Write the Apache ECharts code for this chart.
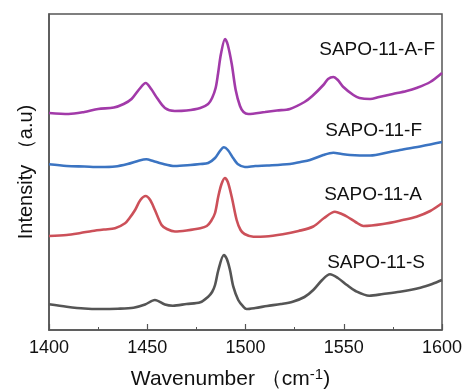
<!DOCTYPE html>
<html><head><meta charset="utf-8">
<script src="https://cdn.jsdelivr.net/npm/echarts@6/dist/echarts.min.js"></script>
<style>html,body{margin:0;padding:0;background:#fff}#c{width:465px;height:390px}</style>
</head><body><div id="c"></div>
<script>
const xTicks = [1400, 1450, 1500, 1550, 1600];
const seriesNames = ['SAPO-11-A-F', 'SAPO-11-F', 'SAPO-11-A', 'SAPO-11-S'];
const purpleAF = [[1400,217],[1410,216],[1418,218],[1425,221],[1433,222.5],[1438,226],[1442,231],[1446,241],[1449.2,247],[1452,241],[1455,232],[1459,222],[1464,219],[1470,219.5],[1477,222],[1481,226],[1483,232],[1484.8,242],[1486,256],[1487.5,276],[1489.6,291],[1491,285],[1493,266],[1495,240],[1497.2,224],[1499,218],[1501.4,216],[1510,218],[1516,219.5],[1522.6,221],[1530,228],[1534,234],[1539.6,245],[1542,251],[1544.7,253],[1547,250],[1549.8,243],[1554.9,235],[1558,232],[1563.4,231],[1568,233],[1575,236],[1582,239],[1587,242],[1594,248],[1600,257]];
const blueF = [[1400,165.7],[1409,164],[1418,163.5],[1426,163],[1433.6,163.5],[1440,166],[1446,169.5],[1449.5,170.7],[1453,169],[1457.3,166.5],[1464,164],[1472,165],[1477,166],[1481,167],[1484.5,172],[1487,179],[1489,182.7],[1491,180],[1493.8,171.7],[1496,166],[1499.7,163],[1505,164],[1511,164.5],[1522.6,166],[1528,168],[1532.8,170],[1539.6,175],[1544.7,177.3],[1549,176],[1553.2,175],[1563.4,174.5],[1573.5,178],[1578.6,180],[1590,184],[1600,188]];
const redA = [[1400,94],[1409,95],[1416,97],[1422,99],[1428,100.5],[1433.6,101.7],[1438.7,106.7],[1441,112],[1443.8,120],[1446.5,130],[1449.2,134],[1451.5,130],[1453.9,120],[1457.3,105],[1460,101],[1464.1,98.5],[1470,99.5],[1477,101.7],[1480.3,104],[1482.5,109],[1484.5,117],[1486.2,134],[1487.8,146],[1489.5,152],[1491,148],[1493,133],[1495.5,110],[1497.5,100],[1499.5,96],[1504,93.3],[1510,93.5],[1519,95.7],[1527,99],[1534.5,103.5],[1540,112],[1545.5,118.3],[1549,116],[1552,113],[1556,108],[1560,104],[1570,106],[1580,110],[1587,113.3],[1594,119],[1600,126.7]];
const grayS = [[1400,25.7],[1409,23.3],[1418,21.5],[1426,21],[1435,21.3],[1443,22.3],[1448.9,25.5],[1453.9,30],[1459,25.5],[1463,24.3],[1470,26],[1477,27.7],[1481,33.3],[1483,38],[1484.5,45],[1486.2,60],[1489,75],[1490.5,71],[1492.1,60],[1493.8,43.3],[1496.3,30],[1498.9,23.3],[1500.5,21],[1505,22],[1511,24],[1518,26],[1524,28.3],[1530,33],[1534.5,40],[1539,50],[1543,55.7],[1547,52],[1551.6,45],[1556,39],[1563,34.3],[1570,36],[1578.6,38.3],[1589,42.3],[1595,46],[1600,50]];
const colors = ['#a23aa9', '#3b74c2', '#cc5059', '#555555'];
const dataSets = [purpleAF, blueF, redA, grayS];
const labelPos = [[435,50],[422,131],[422,195],[425,263]];

const chart = echarts.init(document.getElementById('c'));
const font = 'Liberation Sans, Arial, sans-serif';
chart.setOption({
  animation: false,
  grid: {left: 49, right: 23, top: 14, bottom: 60, show: true, borderColor: '#555', borderWidth: 1.5, containLabel: false, outerBoundsMode: 'none'},
  xAxis: {
    type: 'value', min: 1400, max: 1600, interval: 50,
    axisLine: {show: true, lineStyle: {color: '#555', width: 1.5}},
    axisTick: {show: true, inside: true, length: 6, lineStyle: {color: '#555', width: 1.2}},
    minorTick: {show: true, splitNumber: 2, length: 3, lineStyle: {color: '#555', width: 1}},
    axisLabel: {color: '#111', fontSize: 18, fontFamily: font, margin: 9,
      formatter: v => xTicks.includes(v) ? String(v) : ''},
    splitLine: {show: false},
    name: '{a|Wavenumber （cm}{s|-1}{a|)}', nameLocation: 'middle', nameGap: 37,
    nameTextStyle: {padding: [0, 30, 0, 0], rich: {a: {fontSize: 21, fontFamily: font, color: '#111'}, s: {fontSize: 15, fontFamily: font, color: '#111', verticalAlign: 'top', padding: [0,0,9,0]}}}
  },
  yAxis: {
    type: 'value', min: 0, max: 316,
    axisLine: {show: true, lineStyle: {color: '#555', width: 1.5}},
    axisTick: {show: false}, axisLabel: {show: false}, splitLine: {show: false},
    name: 'Intensity （a.u)', nameLocation: 'middle', nameGap: 13,
    nameTextStyle: {fontSize: 20, fontFamily: font, color: '#111'}
  },
  graphic: seriesNames.map((n, i) => ({
    type: 'text', x: labelPos[i][0], y: labelPos[i][1],
    style: {text: n, fontSize: 19, fontFamily: font, fill: '#111', align: 'right', verticalAlign: 'middle'}
  })),
  series: dataSets.map((d, i) => ({
    type: 'line', name: seriesNames[i], data: d, smooth: 0.3, showSymbol: false,
    lineStyle: {color: colors[i], width: 2.6}
  }))
});
</script></body></html>
